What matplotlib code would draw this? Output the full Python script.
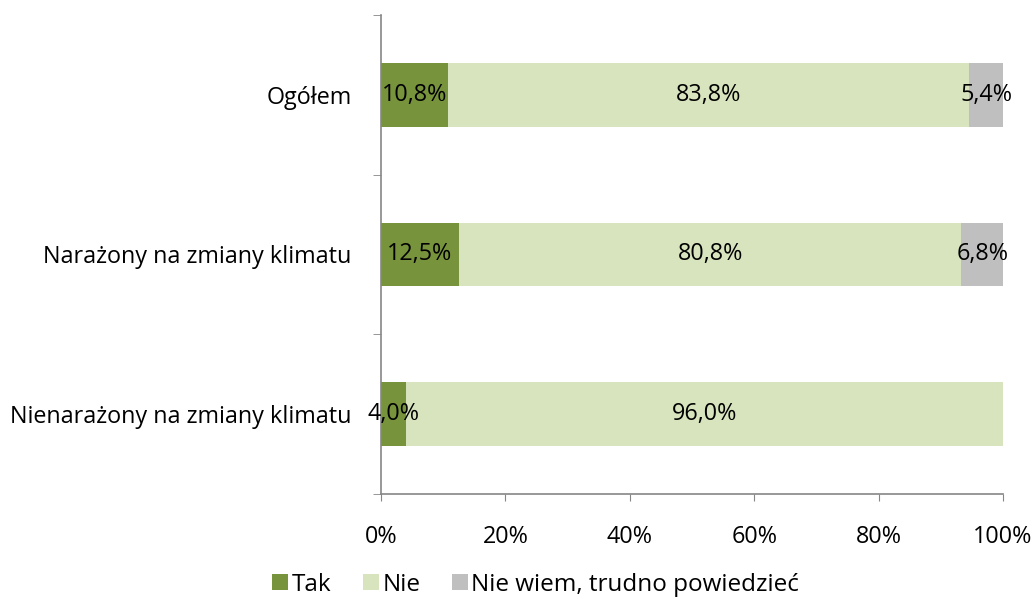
import numpy as np
import matplotlib
matplotlib.use("Agg")
import matplotlib.pyplot as plt

# dane z wykresu
kategorie = ["Ogółem", "Narażony na zmiany klimatu", "Nienarażony na zmiany klimatu"]
tak = [10.8, 12.5, 4.0]
nie = [83.8, 80.8, 96.0]
nie_wiem = [5.4, 6.8, 0.0]
serie = ["Tak", "Nie", "Nie wiem, trudno powiedzieć"]
kolory = ["#77933C", "#D7E4BD", "#BFBFBF"]
xticks = [0, 20, 40, 60, 80, 100]

plt.rcParams['font.family'] = ['Open Sans', 'DejaVu Sans']
plt.rcParams['font.size'] = 16.8

fig = plt.figure(figsize=(10.36, 5.99), dpi=100)
ax = fig.add_axes([0.3678, 0.1753, 0.6004, 0.7997])

y = np.arange(len(kategorie))
left = np.zeros(len(kategorie))
for nazwa, vals, kol in zip(serie, [tak, nie, nie_wiem], kolory):
    vals = np.array(vals)
    ax.barh(y, vals, left=left, height=0.4, color=kol, label=nazwa)
    for yi, l, v in zip(y, left, vals):
        if v > 0:
            ax.text(l + v / 2, yi, f"{v:.1f}%".replace(".", ","),
                    ha="center", va="center", color="black")
    left += vals

ax.set_xlim(0, 100)
ax.set_ylim(2.5, -0.5)
ax.set_xticks(xticks)
ax.set_xticklabels([f"{t}%" for t in xticks])
ax.set_yticks(y)
ax.set_yticklabels(kategorie)
ax.set_yticks([-0.5, 0.5, 1.5, 2.5], minor=True)
ax.tick_params(axis="y", which="major", length=0, pad=21)
ax.tick_params(axis="y", which="minor", length=6, color="#868686", direction="out")
ax.tick_params(axis="x", length=5, color="#868686", direction="out", pad=17)

for s in ["top", "right"]:
    ax.spines[s].set_visible(False)
for s in ["left", "bottom"]:
    ax.spines[s].set_color("#868686")
    ax.spines[s].set_linewidth(1.2)

fig.legend(loc="center", bbox_to_anchor=(0.517, 0.024), ncol=3, frameon=False,
           handlelength=0.65, handleheight=0.65, handletextpad=0.15,
           columnspacing=1.3, fontsize=17.5)

fig.savefig("out.png", dpi=100)
